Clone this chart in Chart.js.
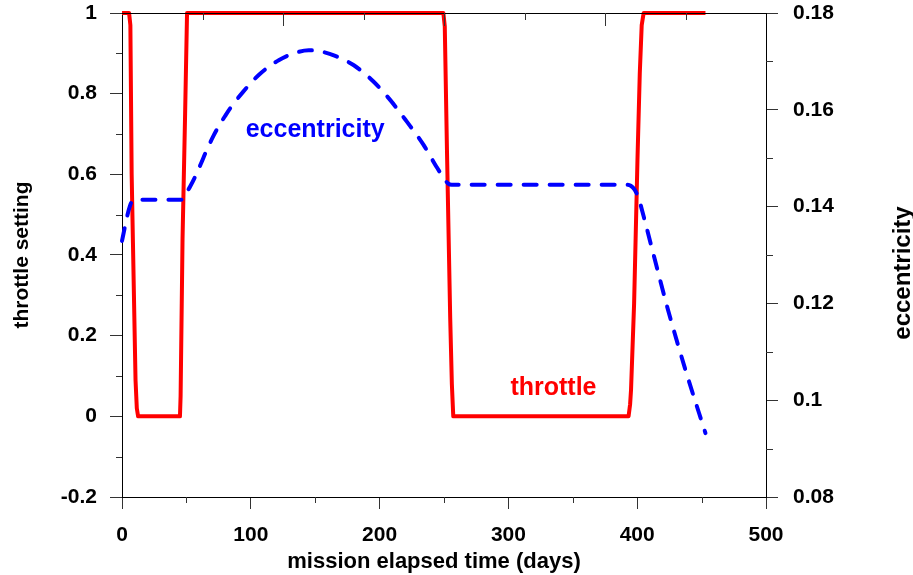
<!DOCTYPE html>
<html><head><meta charset="utf-8">
<script src="https://cdn.jsdelivr.net/npm/chart.js@4/dist/chart.umd.min.js"></script>
<style>html,body{margin:0;padding:0;background:#fff;}#wrap{width:913px;height:575px;position:relative;}</style>
</head><body><div id="wrap"><canvas id="c" width="913" height="575"></canvas></div>
<script>
// ---- data ----
const THROTTLE_DAYS   = [0, 5.5, 6.5, 7.5, 8.5, 10.5, 11.5, 12.5, 45, 45.5, 47, 49, 50.5, 249.5, 250.6, 252.3, 254.8, 256.1, 257.2, 393.3, 394.5, 395.2, 397.6, 400.2, 402, 403.5, 405, 453];
const THROTTLE_VALUES = [1, 1, 0.97, 0.6, 0.43, 0.09, 0.02, 0, 0, 0.05, 0.44, 0.75, 1, 1, 0.967, 0.66, 0.246, 0.08, 0, 0, 0.03, 0.065, 0.28, 0.635, 0.85, 0.97, 1, 1];

const ECC_DAYS   = [0, 2, 4, 6, 8, 10, 46, 48, 50, 53, 57, 61, 66, 71, 76, 80, 84, 94, 107, 122, 135, 145, 155, 165, 180, 195, 208, 221, 234, 244, 250, 253, 256, 392, 395, 398, 401, 405, 412, 424, 438, 453];
const ECC_VALUES = [0.1329, 0.1355, 0.1380, 0.1400, 0.1412, 0.1414, 0.1414, 0.1418, 0.1428, 0.1442, 0.1463, 0.1487, 0.1518, 0.1546, 0.1570, 0.1587, 0.1603, 0.1637, 0.1674, 0.1703, 0.1718, 0.1723, 0.1720, 0.1712, 0.1692, 0.1659, 0.1621, 0.1576, 0.1528, 0.1483, 0.1458, 0.1448, 0.1445, 0.1445, 0.1443, 0.1435, 0.1418, 0.1380, 0.1308, 0.1186, 0.1058, 0.0932];

const X_TICKS = [0, 100, 200, 300, 400, 500];
const X_MINOR_TICKS = [50, 150, 250, 350, 450];
const TOP_MAJOR_TICKS = [125, 250, 375];
const TOP_MINOR_TICKS = [62.5, 187.5, 312.5, 437.5];
const LEFT_TICKS = [-0.2, 0, 0.2, 0.4, 0.6, 0.8, 1];
const LEFT_MINOR_TICKS = [-0.1, 0.1, 0.3, 0.5, 0.7, 0.9];
const RIGHT_TICKS = [0.08, 0.1, 0.12, 0.14, 0.16, 0.18];
const RIGHT_MINOR_TICKS = [0.09, 0.11, 0.13, 0.15, 0.17];

const X_TITLE = 'mission elapsed time (days)';
const LEFT_TITLE = 'throttle setting';
const RIGHT_TITLE = 'eccentricity';
const ECC_LABEL = {text: 'eccentricity', day: 150, value: 0.71};
const THR_LABEL = {text: 'throttle', day: 335, value: 0.07};

// ---- chart ----
const FONT = 'Liberation Sans, Arial, Helvetica, sans-serif';
const toPts = (xs, ys) => xs.map((x, i) => ({x: x, y: ys[i]}));
const px = v => Math.round(v) + 0.5;

const decor = {
  id: 'decor',
  afterDatasetsDraw(chart) {
    const {ctx, scales: {x, y}} = chart;
    ctx.save();
    ctx.font = 'bold 25px ' + FONT;
    ctx.textAlign = 'center';
    ctx.textBaseline = 'middle';
    ctx.fillStyle = '#0000ff';
    ctx.fillText(ECC_LABEL.text, x.getPixelForValue(ECC_LABEL.day), y.getPixelForValue(ECC_LABEL.value));
    ctx.fillStyle = '#ff0000';
    ctx.fillText(THR_LABEL.text, x.getPixelForValue(THR_LABEL.day), y.getPixelForValue(THR_LABEL.value));
    ctx.restore();
  },
  afterDraw(chart) {
    const {ctx, chartArea: a, scales: {x, y, y2}} = chart;
    ctx.save();
    ctx.strokeStyle = '#000';
    ctx.lineWidth = 1;
    ctx.beginPath();
    ctx.moveTo(a.left, px(a.top)); ctx.lineTo(a.right, px(a.top));
    ctx.stroke();
    ctx.strokeStyle = '#333';
    ctx.beginPath();
    X_MINOR_TICKS.forEach(v => { const p = px(x.getPixelForValue(v)); ctx.moveTo(p, a.bottom); ctx.lineTo(p, a.bottom + 6); });
    TOP_MAJOR_TICKS.forEach(v => { const p = px(x.getPixelForValue(v)); ctx.moveTo(p, a.top); ctx.lineTo(p, a.top + 13); });
    TOP_MINOR_TICKS.forEach(v => { const p = px(x.getPixelForValue(v)); ctx.moveTo(p, a.top); ctx.lineTo(p, a.top + 7); });
    LEFT_MINOR_TICKS.forEach(v => { const p = px(y.getPixelForValue(v)); ctx.moveTo(a.left - 6, p); ctx.lineTo(a.left, p); });
    RIGHT_MINOR_TICKS.forEach(v => { const p = px(y2.getPixelForValue(v)); ctx.moveTo(a.right, p); ctx.lineTo(a.right + 7, p); });
    ctx.stroke();

    ctx.fillStyle = '#000';
    ctx.textAlign = 'center';
    ctx.textBaseline = 'middle';
    ctx.font = 'bold 22px ' + FONT;
    ctx.fillText(X_TITLE, (a.left + a.right) / 2 - 10, 562);
    ctx.save();
    ctx.translate(22, (a.top + a.bottom) / 2);
    ctx.rotate(-Math.PI / 2);
    ctx.font = 'bold 21px ' + FONT;
    ctx.fillText(LEFT_TITLE, 0, 0);
    ctx.restore();
    ctx.save();
    ctx.translate(903, (a.top + a.bottom) / 2 + 18);
    ctx.rotate(-Math.PI / 2);
    ctx.font = 'bold 24px ' + FONT;
    ctx.fillText(RIGHT_TITLE, 0, 0);
    ctx.restore();
    ctx.restore();
  }
};

const tickFont = {family: FONT, weight: 'bold', size: 21};
const gridOpts = {drawOnChartArea: false, drawTicks: true, tickLength: 12, tickColor: '#333', tickWidth: 1, color: '#333'};
const borderOpts = {display: true, color: '#000', width: 1};
const noPadV = s => { s.paddingTop = 0; s.paddingBottom = 0; };
const noPadH = s => { s.paddingLeft = 0; s.paddingRight = 0; };

new Chart(document.getElementById('c'), {
  type: 'line',
  data: {
    datasets: [
      {
        label: 'eccentricity',
        data: toPts(ECC_DAYS, ECC_VALUES),
        yAxisID: 'y2',
        borderColor: '#0000ff',
        borderWidth: 4,
        borderDash: [13, 13],
        borderCapStyle: 'round',
        borderJoinStyle: 'round',
        cubicInterpolationMode: 'monotone',
        pointRadius: 0,
        clip: false,
        fill: false
      },
      {
        label: 'throttle',
        data: toPts(THROTTLE_DAYS, THROTTLE_VALUES),
        yAxisID: 'y',
        borderColor: '#ff0000',
        borderWidth: 4,
        borderJoinStyle: 'round',
        borderCapStyle: 'butt',
        tension: 0,
        pointRadius: 0,
        clip: false,
        fill: false
      }
    ]
  },
  options: {
    responsive: false,
    devicePixelRatio: 1,
    animation: false,
    layout: {padding: {top: 13, left: 0, right: 0, bottom: 0}},
    plugins: {legend: {display: false}, tooltip: {enabled: false}},
    scales: {
      x: {
        type: 'linear', position: 'bottom', min: 0, max: 500,
        afterBuildTicks: s => { s.ticks = X_TICKS.map(v => ({value: v})); },
        afterFit: s => { s.height = 78; noPadH(s); },
        ticks: {font: tickFont, color: '#000', padding: 14, maxRotation: 0, autoSkip: false, callback: v => String(v)},
        grid: gridOpts, border: borderOpts
      },
      y: {
        type: 'linear', position: 'left', min: -0.2, max: 1,
        afterBuildTicks: s => { s.ticks = LEFT_TICKS.map(v => ({value: v})); },
        afterFit: s => { s.width = 122; noPadV(s); },
        ticks: {font: tickFont, color: '#000', padding: 13, autoSkip: false, callback: v => String(v)},
        grid: gridOpts, border: borderOpts
      },
      y2: {
        type: 'linear', position: 'right', min: 0.08, max: 0.18,
        afterBuildTicks: s => { s.ticks = RIGHT_TICKS.map(v => ({value: v})); },
        afterFit: s => { s.width = 147; noPadV(s); },
        ticks: {font: tickFont, color: '#000', padding: 15, autoSkip: false, callback: v => String(v)},
        grid: gridOpts, border: borderOpts
      }
    }
  },
  plugins: [decor]
});
</script>
</body></html>
